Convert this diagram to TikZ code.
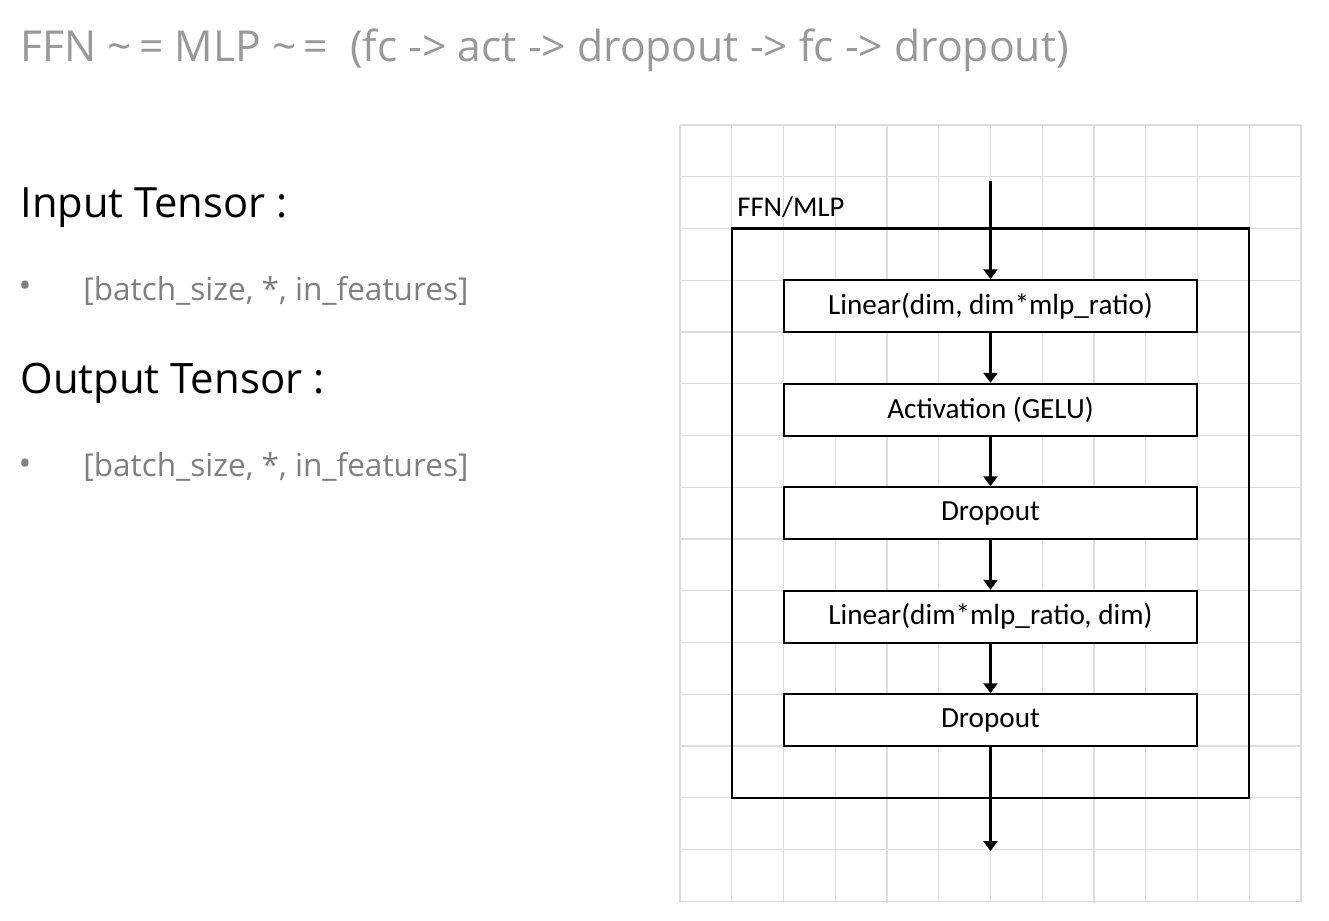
\documentclass[tikz,border=0pt]{standalone}
\usepackage{fontspec}
\usepackage{graphicx}
\setmainfont{Open Sans}
\newfontfamily\boxfont{Carlito}
\newfontfamily\uifont{Open Sans}
\usetikzlibrary{arrows.meta}
\definecolor{gridgray}{HTML}{DDDDDD}
\definecolor{titlegray}{HTML}{999999}
\definecolor{textgray}{HTML}{808080}
\tikzset{
  gridline/.style={draw=gridgray, line width=0.55pt},
  blk/.style={draw=black, line width=1pt, fill=white, minimum width=206.75pt, minimum height=25.875pt, inner sep=0pt, font=\boxfont\fontsize{14.6}{16}\selectfont},
  outerbox/.style={draw=black, line width=1.2pt, minimum width=258.75pt, minimum height=284.625pt, inner sep=0pt},
  arr/.style={draw=black, line width=1.25pt, -{Triangle[length=5pt,width=7pt]}},
  txt/.style={inner sep=0pt, anchor=base west},
  bul/.style={inner sep=0pt, text=textgray, font=\uifont\fontsize{17}{17}\selectfont},
}
\begin{document}
\begin{tikzpicture}[x=0.5pt, y=-0.5pt]
\useasboundingbox[fill=white] (0,0) rectangle (1329,921);
% grid
\foreach \i in {0,...,12} {
  \draw[gridline] (680+51.75*\i,125) -- (680+51.75*\i,903);
}
\foreach \j in {0,...,15} {
  \draw[gridline] (680,125+51.75*\j) -- (1301,125+51.75*\j);
}
% title
\node[txt, text=titlegray] (title) at (20,61) {\resizebox{524pt}{!}{\uifont FFN \textasciitilde\,= MLP \textasciitilde\,=\ \ (fc -> act -> dropout -> fc -> dropout)}};
% left texts
\node[txt] (inT) at (20,217) {\resizebox{133.5pt}{!}{\uifont Input Tensor :}};
\node[bul] (b1) at (25,289) {•};
\node[txt, text=textgray] (inS) at (83,300) {\resizebox{192.5pt}{!}{\uifont [batch\_size, *, in\_features]}};
\node[txt] (outT) at (20,393) {\resizebox{152pt}{!}{\uifont Output Tensor :}};
\node[bul] (b2) at (25,467) {•};
\node[txt, text=textgray] (outS) at (83,476) {\resizebox{192.5pt}{!}{\uifont [batch\_size, *, in\_features]}};
% outer box
\node[outerbox] (ffn) at (990.5,513.125) {};
\node[txt, font=\boxfont\fontsize{14.3}{16}\selectfont] (ffnlabel) at (737,216) {FFN/MLP};
% blocks
\node[blk] (l1) at (990.5,306.125) {Linear(dim, dim*mlp\_ratio)};
\node[blk] (act) at (990.5,409.625) {Activation (GELU)};
\node[blk] (d1) at (990.5,513.125) {Dropout};
\node[blk] (l2) at (990.5,616.625) {Linear(dim*mlp\_ratio, dim)};
\node[blk] (d2) at (990.5,720.125) {Dropout};
\coordinate (in) at (990.5,181);
\coordinate (out) at (990.5,851);
\draw[arr] (in) -- (l1);
\draw[arr] (l1) -- (act);
\draw[arr] (act) -- (d1);
\draw[arr] (d1) -- (l2);
\draw[arr] (l2) -- (d2);
\draw[arr] (d2) -- (out);
\end{tikzpicture}
\end{document}
